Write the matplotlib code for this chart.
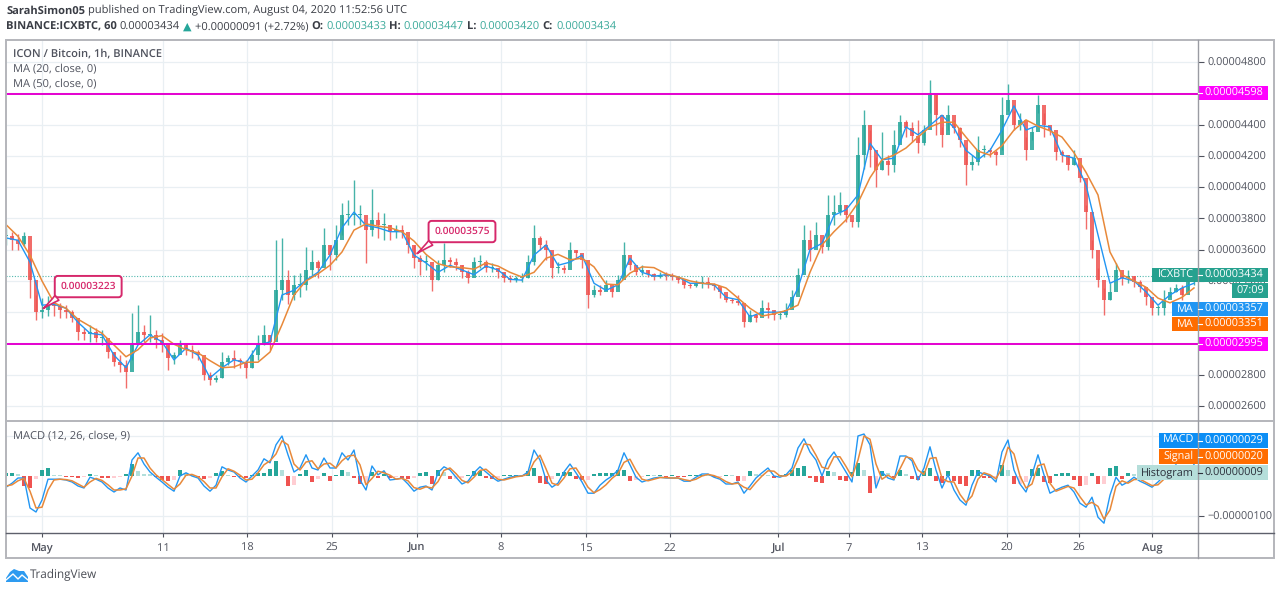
import numpy as np
import matplotlib
matplotlib.use("Agg")
import matplotlib.pyplot as plt
from matplotlib.patches import Rectangle, Polygon

plt.rcParams['font.family'] = ['Open Sans', 'DejaVu Sans']
plt.rcParams['text.hinting'] = 'no_hinting'

# all prices in satoshi (1e-8 BTC), one candle per half day of chart width
highs = [3740,3710,3700,3710,3545,3310,3290,3305,3310,3260,3245,3215,3165,3100,3120,3100,3085,2990,2945,2925,
         2895,3195,3245,3120,3180,3085,3065,2990,2945,3020,3000,2990,2960,2895,2815,2800,2945,2925,2955,2905,
         2895,2955,3055,3120,3055,3660,3675,3470,3440,3450,3615,3600,3535,3740,3630,3755,3900,3915,4045,3885,
         3755,3985,3840,3835,3760,3760,3760,3695,3630,3565,3565,3470,3535,3640,3550,3545,3500,3470,3550,3565,
         3535,3515,3480,3455,3435,3430,3450,3565,3755,3690,3660,3550,3520,3500,3650,3600,3565,3470,3375,3375,
         3405,3355,3440,3650,3535,3490,3505,3470,3450,3455,3455,3450,3430,3400,3385,3405,3430,3425,3385,3355,
         3310,3290,3310,3195,3215,3190,3280,3265,3215,3210,3260,3340,3485,3755,3725,3775,3660,3950,3950,3970,
         3885,3790,4320,4495,4365,4190,4350,4205,4365,4460,4430,4415,4430,4395,4685,4590,4385,4525,4430,4385,
         4255,4205,4330,4270,4250,4235,4575,4660,4490,4475,4320,4385,4590,4475,4385,4255,4235,4205,4235,4110,
         3885,3660,3480,3355,3385,3515,3450,3470,3430,3405,3340,3280,3245,3340,3360,3380,3375,3430,3440]
lows = [3630,3600,3600,3625,3290,3150,3165,3175,3175,3165,3165,3140,3020,3020,3010,3010,2990,2905,2855,2820,
        2715,2895,3020,3010,3010,2970,2945,2830,2870,2955,2925,2905,2895,2765,2735,2755,2780,2860,2840,2840,
        2780,2840,2895,2990,2960,3215,3280,3250,3280,3295,3340,3440,3420,3520,3470,3535,3695,3755,3755,3755,
        3515,3690,3675,3660,3660,3675,3675,3580,3485,3440,3470,3335,3405,3455,3490,3470,3420,3385,3455,3485,
        3455,3455,3420,3395,3395,3395,3395,3420,3500,3600,3535,3420,3450,3450,3535,3545,3485,3225,3300,3310,
        3340,3300,3360,3440,3470,3440,3440,3425,3405,3420,3405,3405,3385,3355,3355,3360,3355,3355,3340,3290,
        3265,3260,3245,3105,3140,3140,3175,3165,3150,3155,3170,3225,3330,3470,3530,3660,3580,3600,3755,3820,
        3775,3745,3745,4115,4130,4000,4110,4080,4095,4350,4320,4290,4220,4270,4475,4335,4255,4365,4345,4255,
        4015,4110,4140,4195,4195,4140,4235,4490,4365,4365,4175,4300,4475,4320,4335,4175,4160,4110,4140,4030,
        3735,3545,3360,3180,3280,3425,3375,3385,3360,3330,3245,3180,3180,3180,3300,3330,3280,3340,3375]
closes = [3685,3660,3635,3690,3405,3200,3215,3245,3240,3215,3200,3165,3075,3060,3075,3035,3035,2945,2880,2860,
          2820,2990,3075,3055,3055,3020,2990,2905,2925,2990,2960,2945,2925,2800,2765,2780,2880,2905,2895,2880,
          2845,2925,2990,3055,3010,3340,3405,3310,3375,3375,3470,3520,3480,3630,3565,3660,3820,3820,3820,3820,
          3725,3790,3760,3760,3715,3725,3715,3630,3545,3520,3520,3405,3500,3535,3520,3500,3455,3420,3520,3520,
          3480,3480,3455,3420,3405,3420,3420,3520,3675,3630,3600,3480,3480,3470,3600,3580,3535,3310,3340,3330,
          3375,3330,3405,3565,3500,3455,3470,3445,3425,3435,3430,3425,3405,3375,3365,3385,3395,3380,3365,3330,
          3280,3270,3260,3135,3180,3165,3225,3215,3180,3180,3215,3300,3440,3660,3600,3695,3615,3820,3840,3885,
          3820,3775,4205,4395,4240,4110,4170,4140,4270,4415,4380,4330,4280,4365,4590,4460,4335,4460,4380,4300,
          4140,4160,4235,4235,4225,4205,4460,4555,4395,4430,4240,4350,4525,4395,4365,4225,4205,4140,4185,4060,
          3840,3600,3405,3280,3330,3470,3420,3430,3395,3360,3300,3225,3225,3280,3330,3355,3310,3395,3434]

# moving averages, read every second candle
ma20 = [3675,3660,3520,3245,3250,3225,3135,3065,3055,2925,
        2845,2990,3055,3010,2895,2970,2925,2780,2845,2895,
        2875,2990,3010,3310,3340,3405,3455,3565,3740,3840,
        3755,3740,3715,3715,3565,3515,3455,3500,3470,3440,
        3495,3470,3410,3405,3565,3630,3500,3520,3565,3385,
        3340,3375,3545,3455,3430,3440,3425,3385,3385,3375,
        3295,3280,3170,3200,3200,3200,3355,3600,3640,3820,
        3855,3950,4280,4175,4185,4385,4335,4395,4460,4380,
        4235,4175,4235,4365,4520,4365,4395,4385,4205,4185,
        4015,3695,3385,3420,3400,3330,3245,3310,3355,3385]
ma50 = [3760,3685,3565,3400,3260,3225,3155,3110,3065,2990,
        2915,2960,3035,3050,2995,2960,2940,2890,2845,2850,
        2880,2880,2945,3120,3310,3400,3445,3500,3585,3725,
        3765,3750,3740,3715,3655,3570,3510,3490,3485,3475,
        3515,3495,3455,3425,3455,3545,3570,3535,3545,3490,
        3380,3375,3450,3490,3485,3445,3425,3400,3385,3380,
        3355,3290,3225,3175,3190,3210,3245,3455,3630,3715,
        3790,3900,4060,4175,4205,4250,4320,4385,4415,4415,
        4320,4230,4205,4265,4365,4430,4390,4360,4320,4220,
        4095,3950,3585,3440,3400,3360,3290,3260,3295,3355]

# MACD pane, 1e-8 BTC
macd = [-28,-18,-5,-5,-80,-90,-60,-8,-8,-8,
        -10,-15,-25,-30,-3,-8,-15,-30,-40,-30,
        -35,40,58,30,10,-3,-15,-28,-38,0,
        8,0,-5,-25,-38,-23,23,15,10,-5,
        -15,0,15,43,33,78,100,53,10,20,
        53,20,15,45,20,20,58,40,65,-10,
        -35,25,3,13,-10,-8,-5,-20,-38,-28,
        -25,-35,8,23,15,-3,-20,-13,8,23,
        10,-3,-13,-8,-3,0,0,10,65,40,
        -10,-28,-18,10,30,8,-15,-43,-43,-23,
        -10,0,15,58,28,-3,-15,-10,-5,-3,
        -5,-5,-5,-13,-13,-3,5,5,-3,-8,
        -20,-20,-15,-43,-25,-5,8,20,0,-3,
        3,20,70,93,60,40,0,40,60,35,
        10,-15,100,105,78,-30,10,-5,-10,50,
        50,38,-10,20,73,15,-30,3,-35,-60,
        -73,-23,10,5,0,-15,60,90,15,-20,
        -40,3,53,3,-43,-35,-28,-23,-40,-68,
        -78,-53,-103,-118,-48,-3,-23,-15,-3,-13,
        -20,-28,-15,0,15,28,8,-5,29]
signal = [-25,-22,-12,-6,-38,-80,-78,-35,-10,-8,
          -9,-12,-20,-28,-15,-6,-11,-22,-35,-35,
          -32,0,45,45,20,3,-9,-21,-33,-20,
          2,4,-2,-14,-30,-30,-2,18,12,2,
          -10,-8,8,28,38,55,88,78,30,15,
          35,38,18,30,32,20,38,50,52,28,
          -22,-6,12,8,2,-8,-6,-12,-29,-33,
          -27,-30,-14,14,20,6,-11,-17,-3,14,
          17,4,-8,-10,-6,-2,0,4,35,52,
          18,-18,-23,-5,18,20,-3,-28,-42,-34,
          -22,-6,6,34,42,14,-8,-12,-8,-4,
          -4,-5,-5,-9,-12,-8,0,4,1,-5,
          -14,-20,-18,-28,-34,-16,0,13,12,0,
          0,10,42,80,78,52,22,18,48,48,
          24,-2,40,100,92,30,-8,2,-7,18,
          48,44,15,4,44,46,-6,-14,-15,-46,
          -66,-50,-8,8,3,-7,20,72,55,0,
          -30,-20,26,30,-18,-38,-32,-26,-30,-52,
          -72,-66,-76,-108,-85,-26,-12,-18,-9,-8,
          -16,-24,-22,-8,8,20,18,4,20]
histogram = [8,8,6,-25,-30,-8,15,20,3,2,
             -2,-3,-4,-2,5,2,-4,-5,-4,-2,
             6,30,12,6,5,-3,-10,-12,-10,15,
             8,2,-3,-8,-6,8,12,3,-2,-3,
             -4,2,8,8,18,37,15,-25,-22,5,
             15,-15,-8,8,-12,3,15,10,-5,-20,
             -18,10,-5,4,-4,-2,-4,-8,-6,8,
             10,-20,15,10,-8,-8,-6,3,12,12,
             -6,-8,-6,2,2,3,2,12,20,-18,
             -20,-8,8,10,10,-8,-10,-10,5,8,
             8,8,15,15,-12,-10,-3,3,2,3,
             -2,2,-2,-3,2,3,3,2,-3,-3,
             3,2,-12,-12,12,5,3,2,-6,3,
             6,15,20,25,-6,-14,-17,12,10,-10,
             -12,10,33,15,-42,-20,12,8,-4,15,
             6,-8,-10,12,20,-12,-17,12,-12,-20,
             -25,15,15,-4,-5,-4,28,15,-20,-20,
             -14,18,20,-15,-17,5,7,7,-10,-25,
             -22,8,-20,-20,20,25,-8,8,4,-2,
             -3,-3,-2,4,5,4,-2,-3,5]

price_ticks = [4800,4600,4400,4200,4000,3800,3600,3400,3200,3000,2800,2600]
macd_grid = [-100,100]
date_pos = [6,26.2,40.2,54.3,68.5,82.5,96.7,110.7,128.7,140.5,152.7,166.8,178.8,191]
date_labels = ['May','11','18','25','Jun','8','15','22','Jul','7','13','20','26','Aug']
bold_dates = ['May','Jun','Jul','Aug']

resistance = 4598
support = 2995
last_price = 3434
callouts = [(6.2,3223,'0.00003223'),(68.5,3575,'0.00003575')]

W, H = 1280, 592
UP, DOWN = '#26a69a', '#ef5350'
BLUE, ORANGE = '#2196f3', '#e8893a'
GRID = '#e9eff3'
TXT = '#50535e'
PINK = '#d6286b'
MAGENTA = '#e400d0'

fig = plt.figure(figsize=(W/100, H/100), dpi=100, facecolor='white')

def pane(left, top, right, bottom):
    return fig.add_axes([left/W, 1-bottom/H, (right-left)/W, (bottom-top)/H])

ax = pane(6, 40, 1198, 421)
ax2 = pane(6, 421, 1198, 533)
over = fig.add_axes([0, 0, 1, 1], zorder=10)
over.set_xlim(0, W)
over.set_ylim(H, 0)
over.axis('off')
over.patch.set_alpha(0)

xlim = (0, 198.67)
ax.set_xlim(*xlim)
ax.set_ylim(2504, 4941)
ax2.set_xlim(*xlim)
ax2.set_ylim(-142.5, 137.5)

# candles, open = previous close
x = np.arange(len(closes))
c = np.array(closes)
o = np.r_[c[0], c[:-1]]
up = c >= o
colors = np.where(up, UP, DOWN)
ax.vlines(x, lows, highs, colors=colors, lw=1.0, alpha=0.85, zorder=3)
ax.bar(x, np.maximum(np.abs(c-o), 6), bottom=np.minimum(c, o), width=0.72, color=colors, alpha=0.85, zorder=3)

xm = np.arange(len(ma20))*2
ax.plot(xm, ma20, color=BLUE, lw=1.0, zorder=4)
ax.plot(xm, ma50, color=ORANGE, lw=1.1, zorder=5)

ax.axhline(resistance, color=MAGENTA, lw=1.4, zorder=6)
ax.axhline(support, color=MAGENTA, lw=1.4, zorder=6)
ax.axhline(last_price, color=UP, lw=0.8, ls=(0, (1, 1.5)), alpha=0.8, zorder=2)

for cx, cy, label in callouts:
    ax.annotate(label, xy=(cx, cy), xycoords='data', xytext=(45, 22), textcoords='offset pixels',
                ha='center', va='center', color=PINK, fontsize=7.4, fontweight='semibold', zorder=8,
                bbox=dict(boxstyle='round,pad=0.55,rounding_size=0.3', fc='white', ec=PINK, lw=1.4),
                arrowprops=dict(arrowstyle='wedge,tail_width=0.6,shrink_factor=0.4', fc='white', ec=PINK,
                                lw=1.2, relpos=(0.15, 0.3), shrinkA=0, shrinkB=0))

# macd pane
h = np.array(histogram)
prev = np.r_[h[0], h[:-1]]
hist_col = [(UP if v >= p else '#b2dfdb') if v >= 0 else ('#ffcdd2' if v >= p else DOWN)
            for v, p in zip(h, prev)]
ax2.bar(x, h, width=0.8, color=hist_col, zorder=3)
ax2.plot(x, macd, color=BLUE, lw=1.0, zorder=4)
ax2.plot(x, signal, color=ORANGE, lw=1.1, zorder=5)

for a in (ax, ax2):
    for sp in a.spines.values():
        sp.set_visible(False)
    a.grid(True, color=GRID, lw=0.9)
    a.set_axisbelow(True)
    a.yaxis.tick_right()
    a.set_xticks(date_pos)

ax.set_yticks(price_ticks)
ax.set_yticklabels(['%.8f' % (v/1e8) for v in price_ticks])
ax2.set_yticks(macd_grid)
ax2.set_yticklabels(['\u2212%.8f' % (abs(v)/1e8) if v < 0 else '' for v in macd_grid])
ax.tick_params(axis='x', length=0, labelbottom=False)
ax.tick_params(axis='y', length=4, width=0.8, color=TXT, labelcolor=TXT, labelsize=7.8, pad=3)
ax2.tick_params(axis='y', length=4, width=0.8, color=TXT, labelcolor=TXT, labelsize=7.8, pad=3)
ax2.tick_params(axis='x', length=3, width=0.8, color=TXT, labelcolor=TXT, labelsize=8, pad=4)
ax2.set_xticklabels(date_labels)
for t in ax2.get_xticklabels():
    if t.get_text() in bold_dates:
        t.set_fontweight('semibold')

# frame and separators
over.add_patch(Rectangle((6, 40), 1268, 518, fc='none', ec='#b4b6bb', lw=1.4))
over.plot([6, 1274], [421, 421], color='#b4b6bb', lw=1.4)
over.plot([6, 1198], [533, 533], color='#5d606b', lw=1.0)
over.plot([1198, 1198], [40, 558], color='#9a9ca3', lw=1.0)
over.plot([1198, 1274], [533, 533], color='#5d606b', lw=1.0)

# price labels on the scale
def price_tag(top, bottom, value, color, name=None, left=None, txt='white'):
    over.add_patch(Rectangle((1198 if left is None else left, top),
                             1268-(1198 if left is None else left), bottom-top, fc=color, ec='none'))
    mid = (top+bottom)/2
    over.plot([1198, 1202], [mid, mid], color=txt, lw=0.8)
    over.text(1234, mid, value, color=txt, fontsize=7.8, ha='center', va='center')
    if name:
        over.text(1194, mid, name, color=txt, fontsize=7.8, ha='right', va='center')

price_tag(86, 100, '0.00004598', '#ff00ff')
price_tag(268, 282, '0.00003434', '#26a18f', 'ICXBTC', 1152)
over.add_patch(Rectangle((1232, 283), 36, 15, fc='#26a18f', ec='none'))
over.text(1250, 290.5, '07:09', color='white', fontsize=7.8, ha='center', va='center')
price_tag(302, 316, '0.00003357', '#2196f3', 'MA', 1172)
price_tag(317, 331, '0.00003351', '#ff6d00', 'MA', 1172)
price_tag(337, 351, '0.00002995', '#ff00ff')
price_tag(433, 448, '0.00000029', '#0c8ef5', 'MACD', 1159)
price_tag(449, 464, '0.00000020', '#ff6d00', 'Signal', 1159)
price_tag(465, 480, '0.00000009', '#b5deda', 'Histogram', 1137, txt='#2a2e39')

# pane legends
over.text(13, 54, 'ICON / Bitcoin, 1h, BINANCE', color=TXT, fontsize=8, fontweight='semibold', va='center')
over.text(13, 69, 'MA (20, close, 0)', color=TXT, fontsize=8, va='center')
over.text(13, 84, 'MA (50, close, 0)', color=TXT, fontsize=8, va='center')
over.text(13, 436, 'MACD (12, 26, close, 9)', color=TXT, fontsize=8, va='center')

# header lines, placed run by run
renderer = fig.canvas.get_renderer()

def runs(x0, y, parts, size):
    px = x0
    for text, color, weight in parts:
        t = over.text(px, y, text, color=color, fontsize=size, fontweight=weight, va='center')
        px = t.get_window_extent(renderer).x1 + 3

DARK = '#3a3d45'
runs(6, 11, [('SarahSimon05', DARK, 'bold'),
             ('published on TradingView.com, August 04, 2020 11:52:56 UTC', DARK, 'normal')], 8)
runs(6, 27, [('BINANCE:ICXBTC, 60', DARK, 'bold'), ('0.00003434', DARK, 'normal'),
             ('\u25b2', UP, 'normal'), ('+0.00000091 (+2.72%)', DARK, 'normal'),
             ('O:', DARK, 'bold'), ('0.00003433', '#3aa99a', 'normal'),
             ('H:', DARK, 'bold'), ('0.00003447', '#3aa99a', 'normal'),
             ('L:', DARK, 'bold'), ('0.00003420', '#3aa99a', 'normal'),
             ('C:', DARK, 'bold'), ('0.00003434', '#3aa99a', 'normal')], 8)

# logo
over.add_patch(Polygon([(6, 578), (10, 572), (14, 569), (19, 571), (24, 571), (28, 577), (28, 582), (6, 582)],
                       fc='#2e9bf0', ec='none'))
over.plot([6, 13, 18, 22, 28], [580, 574, 579, 575, 580], color='white', lw=1.0)
over.text(30, 575, 'TradingView', color='#4a4d55', fontsize=8.5, va='center')

fig.savefig('out.png', dpi=100)
